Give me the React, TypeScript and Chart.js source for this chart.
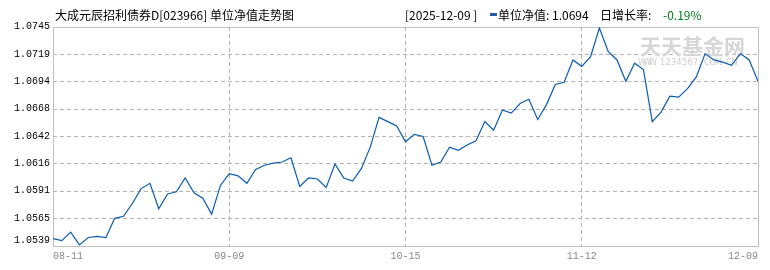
import React, { useEffect, useRef } from "react";
import { Chart, registerables } from "chart.js";

Chart.register(...registerables);

const navValues: number[] = [
  1.0546, 1.0544, 1.0552, 1.054, 1.0547, 1.0548, 1.0547, 1.0565, 1.0567, 1.0579,
  1.0593, 1.0598, 1.0574, 1.0588, 1.059, 1.0603, 1.0589, 1.0584, 1.0569, 1.0596,
  1.0607, 1.0605, 1.0598, 1.0611, 1.0615, 1.0617, 1.0618, 1.0622, 1.0595, 1.0603,
  1.0602, 1.0594, 1.0616, 1.0603, 1.06, 1.0612, 1.0632, 1.066, 1.0656, 1.0652,
  1.0637, 1.0644, 1.0642, 1.0615, 1.0618, 1.0632, 1.0629, 1.0634, 1.0638, 1.0656,
  1.0648, 1.0667, 1.0664, 1.0673, 1.0677, 1.0658, 1.0672, 1.0691, 1.0693, 1.0714,
  1.0708, 1.0717, 1.0744, 1.0722, 1.0714, 1.0694, 1.0711, 1.0705, 1.0656, 1.0665,
  1.068, 1.0679, 1.0687, 1.0698, 1.072, 1.0714, 1.0712, 1.0709, 1.072, 1.0714,
  1.0694,
];

const xTickLabels: string[] = ["08-11", "09-09", "10-15", "11-12", "12-09"];
const yTickLabels: string[] = [
  "1.0539", "1.0565", "1.0591", "1.0616", "1.0642", "1.0668", "1.0694", "1.0719", "1.0745",
];
const yMin = 1.0539;
const yMax = 1.0745;

const titleText = "大成元辰招利债券D[023966] 单位净值走势图";
const dateText = "[2025-12-09 ]";
const navLabel = "单位净值: 1.0694";
const growthLabel = "日增长率:";
const growthValue = "-0.19%";

const boxAndWatermark = {
  id: "boxAndWatermark",
  beforeDatasetsDraw(chart: any) {
    const { ctx, chartArea } = chart;
    ctx.save();
    ctx.fillStyle = "#d6d6d6";
    ctx.font = "bold 21px 'Noto Sans CJK SC'";
    ctx.textBaseline = "middle";
    ctx.textAlign = "left";
    ctx.fillText("天天基金网", 640, 46);
    ctx.font = "8px 'DejaVu Sans'";
    ctx.fillStyle = "#cccccc";
    const url = "WWW.1234567.COM.CN";
    let x = 638;
    for (const ch of url) {
      ctx.fillText(ch, x, 63);
      x += 5.5;
    }
    ctx.strokeStyle = "#c0c0c0";
    ctx.lineWidth = 1;
    ctx.setLineDash([]);
    ctx.strokeRect(
      Math.round(chartArea.left) + 0.5,
      Math.round(chartArea.top) + 0.5,
      Math.round(chartArea.right - chartArea.left),
      Math.round(chartArea.bottom - chartArea.top)
    );
    // y tick labels
    const ys = chart.scales.y;
    ctx.fillStyle = "#000000";
    ctx.font = "10px 'Liberation Mono', monospace";
    ctx.textAlign = "right";
    ctx.textBaseline = "middle";
    const n = yTickLabels.length - 1;
    yTickLabels.forEach((lab, i) => {
      let py = ys.getPixelForValue(yMin + ((yMax - yMin) * i) / n);
      if (i === 0) py -= 6;
      else py -= 0.5;
      ctx.fillText(lab, chartArea.left - 3, py);
    });
    ctx.restore();
  },
};

export default function App() {
  const ref = useRef<HTMLCanvasElement | null>(null);

  useEffect(() => {
    if (!ref.current) return;
    const chart = new Chart(ref.current, {
      type: "line",
      data: {
        datasets: [
          {
            data: navValues.map((v, i) => ({ x: i, y: v })),
            borderColor: "#0a5cb0",
            borderWidth: 1.2,
            pointRadius: 0,
            tension: 0,
            fill: false,
          },
        ],
      },
      options: {
        responsive: false,
        animation: false,
        devicePixelRatio: 1,
        layout: { padding: { top: 27, right: 12, left: 0, bottom: 0 } },
        plugins: { legend: { display: false }, title: { display: false }, tooltip: { enabled: false } },
        scales: {
          x: {
            type: "linear",
            min: 0,
            max: navValues.length - 1,
            afterBuildTicks: (scale: any) => {
              const n = navValues.length - 1;
              scale.ticks = xTickLabels.map((_, i) => ({ value: (i * n) / (xTickLabels.length - 1) }));
            },
            afterFit: (scale: any) => {
              scale.height = 24;
            },
            grid: {
              drawTicks: false,
              color: (c: any) =>
                c.index > 0 && c.index < xTickLabels.length - 1 ? "#b4b4b4" : "rgba(0,0,0,0)",
            },
            border: { display: false, dash: [4, 3] },
            ticks: {
              autoSkip: false,
              maxRotation: 0,
              align: "inner",
              padding: 4,
              color: "#888888",
              font: { family: "'Liberation Mono', monospace", size: 10 },
              callback: (_v: any, i: number) => xTickLabels[i],
            },
          },
          y: {
            min: yMin,
            max: yMax,
            afterBuildTicks: (scale: any) => {
              const n = yTickLabels.length - 1;
              scale.ticks = yTickLabels.map((_, i) => ({ value: yMin + ((yMax - yMin) * i) / n }));
            },
            afterFit: (scale: any) => {
              scale.width = 53;
            },
            grid: {
              drawTicks: false,
              color: (c: any) =>
                c.index > 0 && c.index < yTickLabels.length - 1 ? "#b4b4b4" : "rgba(0,0,0,0)",
            },
            border: { display: false, dash: [4, 3] },
            ticks: {
              autoSkip: false,
              padding: 3,
              color: "rgba(0,0,0,0)",
              font: { family: "'Liberation Mono', monospace", size: 10 },
              callback: (_v: any, i: number) => yTickLabels[i],
            },
          },
        },
      },
      plugins: [boxAndWatermark],
    } as any);
    return () => chart.destroy();
  }, []);

  const font = "'Noto Sans CJK SC', 'Noto Sans', sans-serif";
  const span = (left: number, color: string, text: string) => (
    <span
      style={{
        position: "absolute",
        left,
        top: 7,
        fontFamily: font,
        fontSize: 12,
        lineHeight: "16px",
        color,
        whiteSpace: "pre",
      }}
    >
      {text}
    </span>
  );

  return (
    <div
      style={{
        position: "fixed",
        left: 0,
        top: 0,
        width: 770,
        height: 270,
        background: "#ffffff",
        overflow: "hidden",
      }}
    >
      <canvas ref={ref} width={770} height={270} style={{ position: "absolute", left: 0, top: 0 }} />
      {span(55, "#000000", titleText)}
      {span(405, "#000000", dateText)}
      <span
        style={{
          position: "absolute",
          left: 490,
          top: 13,
          width: 7,
          height: 3,
          background: "#1f5fb0",
        }}
      />
      {span(498, "#000000", navLabel)}
      {span(600, "#000000", growthLabel)}
      {span(663, "#007a1a", growthValue)}
    </div>
  );
}
